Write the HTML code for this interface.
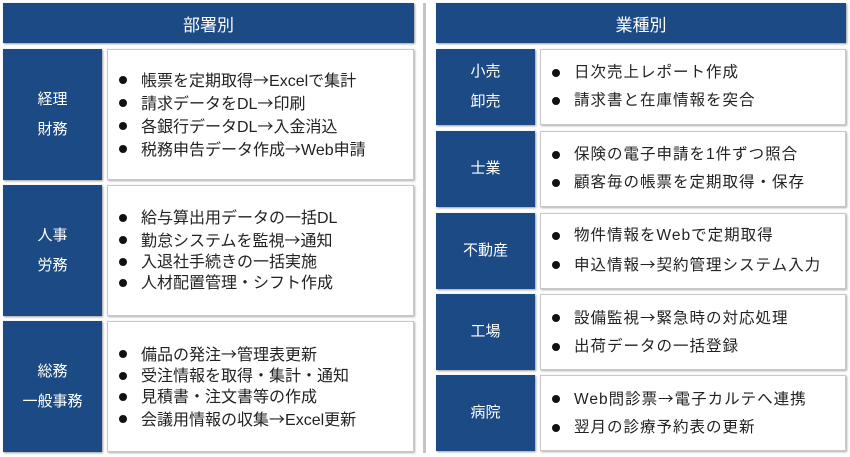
<!DOCTYPE html>
<html><head><meta charset="utf-8"><style>
body{margin:0;width:850px;height:457px;background:#fff;font-family:"Liberation Sans","Noto Sans CJK JP",sans-serif;position:relative;overflow:hidden}
.b{position:absolute;background:#1b4a85;color:#fff;display:flex;align-items:center;justify-content:center;text-align:center;box-shadow:1px 1px 2px #999}
.h{font-size:17px}
.l{font-size:15px;line-height:30px}
.c{position:absolute;background:#fff;border:1px solid #c8c8c8;box-shadow:1px 1px 2px #aaa;box-sizing:border-box;color:#222;display:flex;flex-direction:column;justify-content:center}
.c div{position:relative;padding-left:33px;white-space:nowrap}
.c div:before{content:"";position:absolute;left:11px;top:50%;margin-top:-4px;width:8px;height:8px;border-radius:50%;background:#111}
.a{font-family:"Noto Sans CJK JP",sans-serif}
.L{font-size:16px}
.L div{line-height:21px}
.R{font-size:15.5px}
.R div{line-height:28px;letter-spacing:1px}
.vl{position:absolute;left:423px;top:3px;width:3px;height:450px;background:#c4c4c4}
</style></head><body>
<div class="b h" style="left:3px;top:3px;width:411px;height:40px">部署別</div>
<div class="b h" style="left:436px;top:3px;width:410px;height:40px">業種別</div>
<div class="vl"></div>

<div class="b l" style="left:3px;top:49px;width:99px;height:131px">経理<br>財務</div>
<div class="c L" style="left:107px;top:49px;width:307px;height:131px"><div>帳票を定期取得<span class="a">→</span>Excelで集計</div><div>請求データをDL<span class="a">→</span>印刷</div><div>各銀行データDL<span class="a">→</span>入金消込</div><div>税務申告データ作成<span class="a">→</span>Web申請</div></div>
<div class="b l" style="left:3px;top:185px;width:99px;height:131px">人事<br>労務</div>
<div class="c L" style="left:107px;top:185px;width:307px;height:131px"><div>給与算出用データの一括DL</div><div>勤怠システムを監視<span class="a">→</span>通知</div><div>入退社手続きの一括実施</div><div>人材配置管理・シフト作成</div></div>
<div class="b l" style="left:3px;top:321px;width:99px;height:131px">総務<br>一般事務</div>
<div class="c L" style="left:107px;top:321px;width:307px;height:131px"><div>備品の発注<span class="a">→</span>管理表更新</div><div>受注情報を取得・集計・通知</div><div>見積書・注文書等の作成</div><div>会議用情報の収集<span class="a">→</span>Excel更新</div></div>

<div class="b l" style="left:436px;top:49px;width:99px;height:76px">小売<br>卸売</div>
<div class="c R" style="left:540px;top:49px;width:306px;height:76px"><div>日次売上レポート作成</div><div>請求書と在庫情報を突合</div></div>
<div class="b l" style="left:436px;top:131px;width:99px;height:76px">士業</div>
<div class="c R" style="left:540px;top:131px;width:306px;height:76px"><div>保険の電子申請を1件ずつ照合</div><div>顧客毎の帳票を定期取得・保存</div></div>
<div class="b l" style="left:436px;top:213px;width:99px;height:76px">不動産</div>
<div class="c R" style="left:540px;top:213px;width:306px;height:76px"><div>物件情報をWebで定期取得</div><div>申込情報<span class="a">→</span>契約管理システム入力</div></div>
<div class="b l" style="left:436px;top:294px;width:99px;height:76px">工場</div>
<div class="c R" style="left:540px;top:294px;width:306px;height:76px"><div>設備監視<span class="a">→</span>緊急時の対応処理</div><div>出荷データの一括登録</div></div>
<div class="b l" style="left:436px;top:375px;width:99px;height:76px">病院</div>
<div class="c R" style="left:540px;top:375px;width:306px;height:76px"><div>Web問診票<span class="a">→</span>電子カルテへ連携</div><div>翌月の診療予約表の更新</div></div>
</body></html>
